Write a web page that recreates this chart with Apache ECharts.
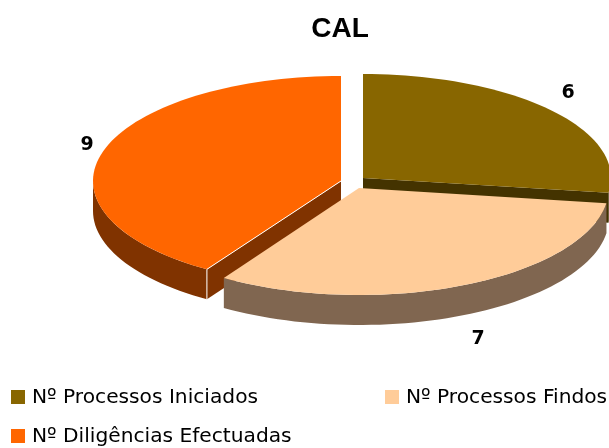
<!DOCTYPE html>
<html>
<head>
<meta charset="utf-8">
<style>html,body{margin:0;padding:0;background:#fff}#main{width:609px;height:448px}</style>
<script src="https://cdn.jsdelivr.net/npm/echarts@6/dist/echarts.min.js"></script>
</head>
<body>
<div id="main"></div>
<script>
var categories = ['Nº Processos Iniciados', 'Nº Processos Findos', 'Nº Diligências Efectuadas'];
var values = [6, 7, 9];
var chartTitle = 'CAL';

var topColors = ['#886600', '#ffcc99', '#ff6600'];
var wallColors = ['#443300', '#806650', '#803300'];
// slice apex in pixels, the reference explodes each slice by a different amount
var apexes = [[363, 178], [359, 188], [341, 181]];
var radiiX = [248, 250, 248];
var radiiY = [104, 107, 105];
var labelPos = [[568, 93], [478, 339], [87, 145]];
var legendPos = [[11, 397], [385, 397], [11, 436]];
// which cut edge shows a wall (0 start, 1 end), and stacking of the slices
var wallEdge = [1, null, 0];
var sliceZ = [20, 30, 10];
var depth = 30;

var total = values.reduce(function (a, b) { return a + b; }, 0);

function pt(i, deg, dy) {
    var r = deg * Math.PI / 180;
    return [apexes[i][0] + radiiX[i] * Math.sin(r), apexes[i][1] - radiiY[i] * Math.cos(r) + (dy || 0)];
}

function arc(i, a0, a1, dy) {
    var out = [];
    var n = Math.max(2, Math.ceil((a1 - a0) / 2));
    for (var j = 0; j <= n; j++) {
        out.push(pt(i, a0 + (a1 - a0) * j / n, dy));
    }
    return out;
}

function renderSlice(params, api) {
    var i = params.dataIndex;
    var before = 0;
    for (var k = 0; k < i; k++) before += values[k];
    var a0 = before / total * 360;
    var a1 = (before + api.value(1)) / total * 360;
    var apex = apexes[i];
    var z = sliceZ[i];
    var kids = [];

    // cut wall
    if (wallEdge[i] !== null) {
        var p = pt(i, wallEdge[i] === 0 ? a0 : a1);
        kids.push({
            type: 'polygon',
            z2: z,
            shape: { points: [apex, p, [p[0], p[1] + depth], [apex[0], apex[1] + depth]] },
            style: { fill: wallColors[i] }
        });
    }

    // outer rim, only the part facing the viewer
    var s = Math.max(a0, 90), e = Math.min(a1, 270);
    if (s < e) {
        var lo = arc(i, s, e, 0);
        var hi = arc(i, s, e, depth).reverse();
        kids.push({
            type: 'polygon',
            z2: z,
            shape: { points: lo.concat(hi) },
            style: { fill: wallColors[i] }
        });
    }

    // top face
    kids.push({
        type: 'polygon',
        z2: z + 1,
        shape: { points: [apex].concat(arc(i, a0, a1, 0)) },
        style: { fill: topColors[i] }
    });

    // thin white edge on the orange slice
    if (i === 2) {
        var c = pt(i, a0);
        kids.push({
            type: 'polyline',
            z2: z + 2,
            shape: { points: [apex, c, [c[0], c[1] + depth]] },
            style: { fill: null, stroke: '#fff', lineWidth: 1 }
        });
    }
    return { type: 'group', children: kids };
}

var chart = echarts.init(document.getElementById('main'), null, { renderer: 'canvas' });

var font = '"DejaVu Sans", Verdana, sans-serif';

var option = {
    animation: false,
    backgroundColor: '#fff',
    title: {
        text: chartTitle,
        left: 335,
        top: 10,
        textAlign: 'center',
        textStyle: { fontFamily: '"Liberation Sans", Arial, sans-serif', fontSize: 28, fontWeight: 'bold', color: '#000' }
    },
    series: [{
        type: 'custom',
        coordinateSystem: 'none',
        renderItem: renderSlice,
        data: categories.map(function (c, i) { return { name: c, value: [i, values[i]] }; })
    }],
    graphic: values.map(function (v, i) {
        return {
            type: 'text',
            x: labelPos[i][0], y: labelPos[i][1],
            style: { text: String(v), font: 'bold 19px ' + font, fill: '#000', align: 'center', verticalAlign: 'middle' }
        };
    }).concat(legendPos.map(function (p, i) {
        return {
            type: 'group',
            children: [
                { type: 'rect', shape: { x: p[0], y: p[1] - 7, width: 14, height: 14 }, style: { fill: topColors[i] } },
                { type: 'text', x: p[0] + 21, y: p[1] + 1, style: { text: categories[i], font: '20.2px ' + font, fill: '#000', verticalAlign: 'middle' } }
            ]
        };
    }))
};
chart.setOption(option);
</script>
</body>
</html>
